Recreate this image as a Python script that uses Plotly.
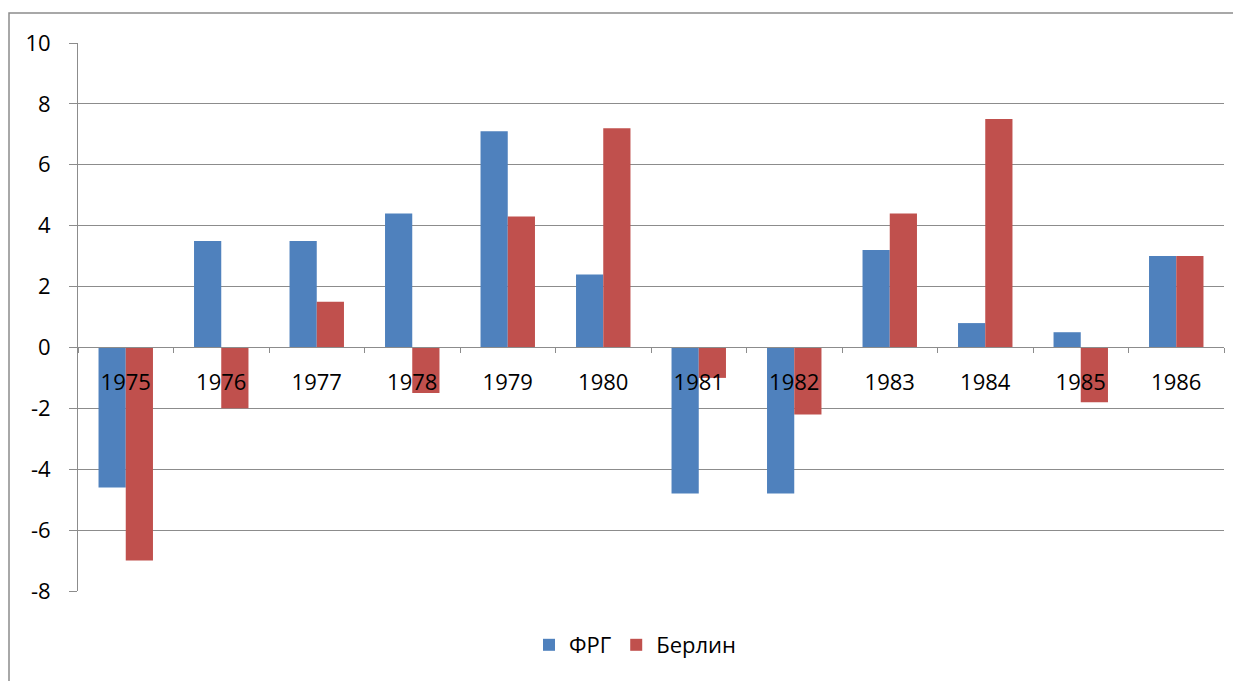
import plotly.graph_objects as go

years = ["1975", "1976", "1977", "1978", "1979", "1980",
         "1981", "1982", "1983", "1984", "1985", "1986"]
frg = [-4.6, 3.5, 3.5, 4.4, 7.1, 2.4, -4.8, -4.8, 3.2, 0.8, 0.5, 3.0]
berlin = [-7.0, -2.0, 1.5, -1.5, 4.3, 7.2, -1.0, -2.2, 4.4, 7.5, -1.8, 3.0]
y_ticks = [-8, -6, -4, -2, 0, 2, 4, 6, 8, 10]
y_labels = ["-8", "-6", "-4", "-2", "0", "2", "4", "6", "8", "10"]

W, H = 1241, 681
OFF = 8  # page body margin
# plot area in screen pixels: x 78..1224, y 43..591
L = 78 - OFF
T = 43 - OFF
R = W - (1224 - OFF)
B = H - (591 - OFF)
pw, ph = W - L - R, H - T - B

def px_x(p):
    return (p - OFF - L) / pw

def px_y(p):
    return (H - B - (p - OFF)) / ph

font = "Open Sans, Calibri, sans-serif"
grid = "#8c8c8c"

fig = go.Figure()
fig.add_trace(go.Bar(x=years, y=frg, name="ФРГ", marker_color="#4F81BD",
                     marker_line_width=0))
fig.add_trace(go.Bar(x=years, y=berlin, name="Берлин", marker_color="#C0504D",
                     marker_line_width=0))

zero_frac = (0 - y_ticks[0]) / (y_ticks[-1] - y_ticks[0])

fig.update_layout(
    width=W, height=H,
    margin=dict(l=L, r=R, t=T, b=B, autoexpand=False),
    paper_bgcolor="white", plot_bgcolor="white",
    barmode="group", bargap=0.43, bargroupgap=0,
    font=dict(family=font, size=21, color="#000000"),
    showlegend=True,
    legend=dict(orientation="h", x=px_x(635), y=px_y(645),
                xanchor="center", yanchor="middle",
                font=dict(family=font, size=22), itemwidth=30,
                traceorder="normal"),
    xaxis=dict(type="category", anchor="free", position=zero_frac,
               showline=True, linecolor=grid, linewidth=1,
               ticks="outside", tickson="boundaries", ticklen=5,
               tickcolor=grid, showgrid=False, zeroline=False,
               tickfont=dict(family=font, size=22),
               ticklabelstandoff=15),
    yaxis=dict(range=[y_ticks[0], y_ticks[-1]], tickvals=y_ticks,
               ticktext=y_labels,
               showgrid=True, gridcolor=grid, gridwidth=1,
               showline=True, linecolor=grid, linewidth=1,
               ticks="outside", ticklen=8, tickcolor=grid,
               zeroline=False, tickfont=dict(family=font, size=22),
               ticklabelstandoff=14),
)

fig.add_shape(type="rect", xref="paper", yref="paper",
              x0=px_x(9), x1=px_x(1270), y0=px_y(720), y1=px_y(13),
              line=dict(color=grid, width=1.5), fillcolor="rgba(0,0,0,0)",
              layer="below")

fig.write_html("out.html")
